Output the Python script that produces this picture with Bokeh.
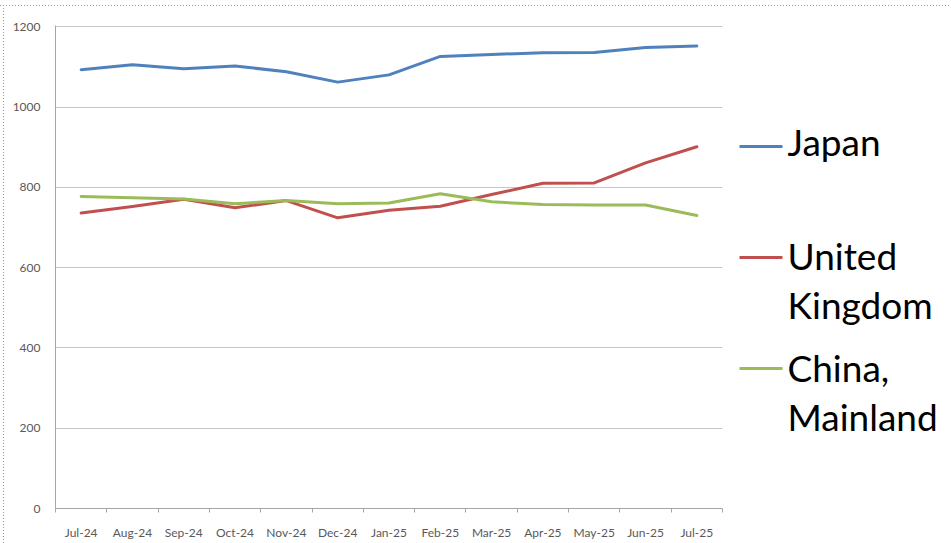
from bokeh.plotting import figure
from bokeh.layouts import row
from bokeh.models import FixedTicker, Range1d
from bokeh.core.properties import value
from bokeh.embed import file_html
from bokeh.resources import INLINE

months = ["Jul-24", "Aug-24", "Sep-24", "Oct-24", "Nov-24", "Dec-24", "Jan-25",
          "Feb-25", "Mar-25", "Apr-25", "May-25", "Jun-25", "Jul-25"]
japan = [1093, 1105, 1095, 1102, 1088, 1062, 1080, 1126, 1131, 1135, 1136, 1148, 1152]
united_kingdom = [736, 752, 770, 749, 767, 724, 743, 753, 782, 810, 811, 861, 901]
china_mainland = [777, 774, 771, 759, 767, 759, 761, 784, 764, 757, 756, 756, 730]
series_names = ["Japan", "United Kingdom", "China, Mainland"]
legend_lines = [["Japan"], ["United", "Kingdom"], ["China,", "Mainland"]]
y_ticks = [0, 200, 400, 600, 800, 1000, 1200]

colors = ["#4f81bd", "#c0504d", "#9bbb59"]
FONT = "Lato"
AX = "#a6a6a6"
BORDER = "#d07a88"

xs = list(range(len(months)))

TOP, BOTTOM = 25, 35
H = 543

p = figure(width=738, height=H, output_backend="svg", toolbar_location=None,
           x_range=Range1d(-0.5, len(months) - 0.5), y_range=Range1d(0, 1203),
           min_border_left=55, min_border_right=16, min_border_top=TOP, min_border_bottom=BOTTOM)
p.outline_line_color = None
p.background_fill_color = "white"
p.border_fill_color = None

for vals, c in zip([japan, united_kingdom, china_mainland], colors):
    p.line(xs, vals, line_color=c, line_width=3, line_join="round", line_cap="round")

p.xgrid.grid_line_color = None
p.ygrid.ticker = FixedTicker(ticks=y_ticks)
p.ygrid.grid_line_color = "#c6c6c6"
p.ygrid.grid_line_width = 1

p.yaxis.ticker = FixedTicker(ticks=y_ticks)
p.yaxis.major_tick_out = 0
p.yaxis.major_tick_in = 0
p.yaxis.minor_tick_out = 0
p.yaxis.minor_tick_in = 0
p.yaxis.axis_line_color = AX
p.yaxis.major_label_text_font = FONT
p.yaxis.major_label_text_font_size = "12px"
p.yaxis.major_label_text_color = "#595959"
p.yaxis.major_label_standoff = 15

p.xaxis.ticker = FixedTicker(ticks=xs, minor_ticks=[i - 0.5 for i in range(len(months) + 1)])
p.xaxis.major_label_overrides = {i: m for i, m in enumerate(months)}
p.xaxis.major_tick_out = 0
p.xaxis.major_tick_in = 0
p.xaxis.minor_tick_out = 4
p.xaxis.minor_tick_in = 0
p.xaxis.minor_tick_line_color = AX
p.xaxis.axis_line_color = AX
p.xaxis.major_label_text_font = FONT
p.xaxis.major_label_text_font_size = "12px"
p.xaxis.major_label_text_color = "#595959"
p.xaxis.major_label_standoff = 12

# legend panel; its frame is aligned with the main frame (y from TOP to H-BOTTOM)
leg = figure(width=213, height=H, output_backend="svg", toolbar_location=None,
             x_range=Range1d(738, 951), y_range=Range1d(H - BOTTOM, TOP),
             x_axis_type=None, y_axis_type=None,
             min_border_left=0, min_border_right=0, min_border_top=TOP, min_border_bottom=BOTTOM)
leg.grid.visible = False
leg.outline_line_color = None
leg.background_fill_color = "white"
leg.border_fill_color = None

sample_y = [146, 257, 368]
first_middles = [141, 255, 367]
line_pitch = 49
leg.segment(x0=[739] * 3, x1=[782] * 3, y0=sample_y, y1=sample_y,
            line_color=colors, line_width=3)
tx, ty, tt = [], [], []
for lines, m in zip(legend_lines, first_middles):
    for k, t in enumerate(lines):
        tx.append(787)
        ty.append(m + k * line_pitch)
        tt.append(t)
leg.text(x=tx, y=ty, text=tt, text_font=value(FONT), text_font_size="37px",
         text_baseline="middle", text_align="left", text_color="#000000")

dots_h = f"repeating-linear-gradient(90deg, {BORDER} 0px, {BORDER} 1px, transparent 1px, transparent 3px)"
dots_v = f"repeating-linear-gradient(180deg, {BORDER} 0px, {BORDER} 1px, transparent 1px, transparent 3px)"
layout = row(p, leg, spacing=0, styles={
    "background-color": "white",
    "background-image": f"{dots_h}, {dots_v}",
    "background-size": "100% 1px, 1px 100%",
    "background-position": "0px 5px, 3px 5px",
    "background-repeat": "no-repeat",
})
open("out.html", "w").write(file_html(layout, INLINE))
